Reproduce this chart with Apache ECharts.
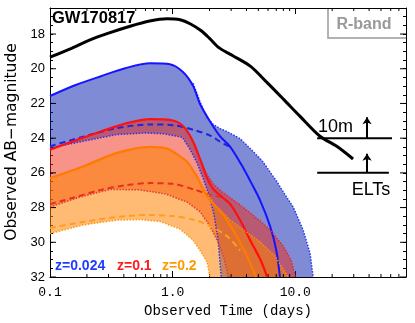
<!DOCTYPE html>
<html>
<head>
<meta charset="utf-8">
<script src="https://cdn.jsdelivr.net/npm/echarts@6/dist/echarts.min.js"></script>
<style>
  html, body { margin: 0; padding: 0; background: #fff; }
  #chart { width: 415px; height: 323px; }
</style>
</head>
<body>
<div id="chart"></div>
<script>
// observed R-band light curve of GW170817, [days, AB mag]
const gw170817 = [[0.1, 19.33], [0.15, 18.82], [0.21, 18.35], [0.3, 17.95], [0.45, 17.55], [0.65, 17.25],
  [0.9, 17.12], [1.15, 17.18], [1.4, 17.42], [1.7, 17.8], [2.0, 18.25], [2.4, 18.8], [3.1, 19.25],
  [4.3, 19.85], [5.9, 20.8], [8.0, 21.75], [10.9, 22.73], [15.9, 23.89], [21.8, 24.47], [29.6, 25.2]];

// z = 0.024
const blueSolid = [[0.1, 21.57], [0.16, 20.95], [0.26, 20.43], [0.41, 19.97], [0.66, 19.68], [0.95, 19.74],
  [1.22, 20.2], [1.47, 21.0], [1.68, 22.06], [2.02, 23.04], [2.44, 23.9], [2.95, 24.5], [3.76, 25.7],
  [4.29, 26.46], [5.18, 27.6], [6.25, 29.1], [7.0, 30.45], [7.5, 32.0]];
const blueDashed = [[0.1, 24.47], [0.19, 23.9], [0.35, 23.42], [0.66, 23.21], [1.05, 23.27], [1.53, 23.55],
  [2.02, 23.85], [2.44, 24.2], [2.9, 24.48]];
const blueOuter = [[1.47, 20.84], [1.68, 21.94], [1.91, 22.81], [2.14, 23.21], [2.44, 23.45], [2.78, 23.62],
  [3.55, 24.03], [4.29, 24.6], [5.37, 25.3], [7.1, 26.52], [8.27, 27.27], [9.62, 27.97], [11.6, 29.3],
  [13.2, 30.63], [14.0, 32.0]];
const blueLower = [[0.1, 24.56], [0.186, 24.18], [0.35, 23.79], [0.6, 23.7], [0.85, 23.75], [1.2, 23.95],
  [1.39, 24.66], [1.58, 25.42], [1.77, 26.29], [1.99, 27.33], [2.18, 28.43], [2.35, 29.88], [2.49, 32.0]];

// z = 0.1
const redSolid = [[0.1, 24.66], [0.16, 24.14], [0.26, 23.62], [0.41, 23.16], [0.66, 22.9], [0.95, 22.95],
  [1.22, 23.31], [1.47, 24.2], [1.68, 25.24], [1.91, 26.3], [2.14, 26.92], [2.53, 27.39], [2.95, 27.8],
  [3.55, 28.72], [4.29, 29.88], [5.18, 30.98], [5.9, 32.0]];
const redDashed = [[0.1, 27.8], [0.16, 27.4], [0.26, 26.98], [0.41, 26.72], [0.66, 26.59], [1.0, 26.63],
  [1.53, 26.98], [2.02, 27.27], [2.53, 27.39]];
const redOuter = [[1.68, 25.24], [1.91, 26.1], [2.14, 26.63], [2.53, 27.1], [2.95, 27.44], [3.55, 27.85],
  [4.29, 28.31], [5.18, 28.78], [6.25, 29.3], [7.98, 30.22], [9.25, 31.04], [10.0, 32.0]];
const redLower = [[0.1, 27.96], [0.176, 27.39], [0.31, 26.95], [0.54, 26.98], [0.87, 27.21], [1.31, 27.68],
  [1.68, 28.25], [2.02, 29.07], [2.35, 30.0], [2.63, 30.92], [2.84, 32.0]];

// z = 0.2
const orangeSolid = [[0.1, 26.3], [0.186, 25.63], [0.352, 24.85], [0.655, 24.5], [0.9, 24.6], [1.15, 25.05],
  [1.31, 25.36], [1.58, 26.23], [1.84, 27.15], [2.1, 27.73], [2.53, 28.31], [3.11, 29.3], [3.76, 30.34],
  [4.29, 31.2], [4.8, 32.0]];
const orangeDashed = [[0.1, 29.18], [0.186, 28.83], [0.352, 28.54], [0.655, 28.43], [1.0, 28.49],
  [1.53, 28.72], [2.02, 29.07], [2.78, 29.65], [3.55, 30.46]];
const orangeOuter = [[1.58, 26.23], [1.84, 26.98], [2.22, 27.85], [2.95, 28.72], [3.9, 29.36], [5.18, 29.99],
  [6.85, 30.8], [8.74, 32.0]];
const orangeLower = [[0.1, 29.5], [0.186, 29.0], [0.352, 28.72], [0.54, 28.69], [0.79, 28.8], [1.15, 29.24],
  [1.47, 29.88], [1.71, 30.57], [1.91, 31.15], [2.02, 32.0]];

// telescope limits
const limit10m = 24;
const limitElt = 26;
const limitDays = [15.1, 61.5];
const arrowDay = 38.5;

const minorDays = [0.2, 0.3, 0.4, 0.5, 0.6, 0.7, 0.8, 0.9, 2, 3, 4, 5, 6, 7, 8, 9, 20, 30, 40, 50, 60, 70];
const majorMags = [18, 20, 22, 24, 26, 28, 30, 32];

const chart = echarts.init(document.getElementById('chart'), null, { renderer: 'canvas' });

function band(solid, outer, lower, color) {
  const upper = solid.filter(p => p[0] < outer[0][0]).concat(outer);
  const poly = upper.concat(lower.slice().reverse());
  return {
    type: 'custom',
    silent: true,
    data: [[1, 20]],
    renderItem: function (params, api) {
      return {
        type: 'polygon',
        shape: { points: poly.map(p => api.coord(p)) },
        style: { fill: color }
      };
    }
  };
}

function curve(data, color, width, type, smooth) {
  return {
    type: 'line',
    data: data,
    symbol: 'none',
    silent: true,
    smooth: smooth ? 0.3 : false,
    lineStyle: { color: color, width: width, type: type || 'solid' }
  };
}

function fmtDay(v) {
  const l = Math.log10(v);
  if (Math.abs(l - Math.round(l)) > 1e-6 || v > 50) return '';
  return v < 1 ? '0.1' : Number(v).toFixed(1);
}

const xBase = {
  type: 'log', logBase: 10, min: 0.1, max: 80,
  axisLine: { show: true, onZero: false, lineStyle: { color: '#000', width: 1 } },
  axisTick: { show: true, inside: true, length: 6, lineStyle: { color: '#000' } },
  splitLine: { show: false }
};
const yBase = {
  type: 'value', inverse: true, min: 16.5, max: 32, interval: 0.5,
  axisLine: { show: true, onZero: false, lineStyle: { color: '#000', width: 1 } },
  axisTick: { show: true, inside: true, length: 3, lineStyle: { color: '#000' } },
  splitLine: { show: false }
};

const option = {
  animation: false,
  backgroundColor: '#fff',
  grid: { left: 50, right: 9, top: 8, bottom: 46 },
  xAxis: [
    Object.assign({}, xBase, {
      position: 'bottom',
      axisLabel: { margin: 9, fontFamily: 'Liberation Mono', fontSize: 13, color: '#000', formatter: fmtDay, showMaxLabel: false }
    }),
    Object.assign({}, xBase, { position: 'top', axisLabel: { show: false } })
  ],
  yAxis: [
    Object.assign({}, yBase, {
      position: 'left',
      axisLabel: {
        margin: 5, fontFamily: 'Liberation Sans', fontSize: 13, color: '#000',
        formatter: v => (v % 2 === 0 && v >= 18 ? String(v) : '')
      }
    }),
    Object.assign({}, yBase, { position: 'right', axisLabel: { show: false } })
  ],
  series: [
    band(blueSolid, blueOuter, blueLower, 'rgba(10,35,175,0.52)'),
    curve(blueDashed, '#2222dd', 2, [6, 4], true),
    curve(blueOuter, '#2233ff', 1.5, 'dotted'),
    curve(blueLower, '#2233ff', 1.5, 'dotted'),
    curve(blueSolid, '#1414ff', 2, 'solid', true),

    band(redSolid, redOuter, redLower, 'rgba(240,40,20,0.5)'),
    curve(redDashed, '#e8301c', 2, [6, 4], true),
    curve(redOuter, '#ee2222', 1.5, 'dotted'),
    curve(redLower, '#e03a3a', 1.5, 'dotted'),
    curve(redSolid, '#ff1010', 2.2, 'solid', true),

    band(orangeSolid, orangeOuter, orangeLower, 'rgba(255,130,0,0.55)'),
    curve(orangeDashed, '#ff9d20', 2, [6, 4], true),
    curve(orangeOuter, '#ff8a10', 1.5, 'dotted'),
    curve(orangeLower, '#ff9a10', 1.5, 'dotted'),
    curve(orangeSolid, '#ff7a00', 2.2, 'solid', true),

    curve(gw170817, '#000', 3, 'solid', true),

    curve([[limitDays[0], limit10m], [limitDays[1], limit10m]], '#000', 2),
    curve([[limitDays[0], limitElt], [limitDays[1] - 3.5, limitElt]], '#000', 2),
    {
      type: 'lines',
      coordinateSystem: 'cartesian2d',
      silent: true,
      symbol: ['none', 'arrow'],
      symbolSize: 7,
      lineStyle: { color: '#000', width: 2, opacity: 1, curveness: 0 },
      data: [
        { coords: [[arrowDay, limit10m], [arrowDay, limit10m - 1.2]] },
        { coords: [[arrowDay, limitElt], [arrowDay, limitElt - 1.1]] }
      ]
    },
    {
      // minor ticks of the log axis, bottom and top
      type: 'custom',
      silent: true,
      data: minorDays.map(d => [d, 32]),
      renderItem: function (params, api) {
        const cs = params.coordSys;
        const x = api.coord([api.value(0), 32])[0];
        const b = cs.y + cs.height;
        return {
          type: 'group',
          children: [
            { type: 'line', shape: { x1: x, y1: b, x2: x, y2: b - 3 }, style: { stroke: '#000', lineWidth: 1 } },
            { type: 'line', shape: { x1: x, y1: cs.y, x2: x, y2: cs.y + 3 }, style: { stroke: '#000', lineWidth: 1 } }
          ]
        };
      }
    },
    {
      // major magnitude ticks, left and right
      type: 'custom',
      silent: true,
      data: majorMags.map(m => [1, m]),
      renderItem: function (params, api) {
        const cs = params.coordSys;
        const y = api.coord([1, api.value(1)])[1];
        const r = cs.x + cs.width;
        return {
          type: 'group',
          children: [
            { type: 'line', shape: { x1: cs.x, y1: y, x2: cs.x + 6, y2: y }, style: { stroke: '#000', lineWidth: 1 } },
            { type: 'line', shape: { x1: r, y1: y, x2: r - 6, y2: y }, style: { stroke: '#000', lineWidth: 1 } }
          ]
        };
      }
    }
  ],
  graphic: [
    { type: 'text', x: 52, y: 18.5, style: { text: 'GW170817', font: 'bold 16.5px "Liberation Sans"', fill: '#000', verticalAlign: 'middle' } },
    { type: 'polyline', shape: { points: [[328, 8], [328, 38], [406, 38]] }, style: { stroke: '#999', lineWidth: 1.5, fill: null } },
    { type: 'text', x: 364, y: 25, style: { text: 'R-band', font: 'bold 16px "Liberation Sans"', fill: '#999', align: 'center', verticalAlign: 'middle' } },
    { type: 'text', x: 55, y: 266, style: { text: 'z=0.024', font: 'bold 14px "Liberation Sans"', fill: '#1e3cff', verticalAlign: 'middle' } },
    { type: 'text', x: 117, y: 266, style: { text: 'z=0.1', font: 'bold 14px "Liberation Sans"', fill: '#ff1a1a', verticalAlign: 'middle' } },
    { type: 'text', x: 162, y: 266, style: { text: 'z=0.2', font: 'bold 14px "Liberation Sans"', fill: '#ff9a00', verticalAlign: 'middle' } },
    { type: 'text', x: 318, y: 127, style: { text: '10m', font: '18px "Liberation Sans"', fill: '#000', verticalAlign: 'middle' } },
    { type: 'text', x: 371, y: 190, style: { text: 'ELTs', font: '18px "Liberation Sans"', fill: '#000', align: 'center', verticalAlign: 'middle' } },
    { type: 'text', x: 228, y: 311, style: { text: 'Observed Time (days)', font: '14px "Liberation Mono"', fill: '#000', align: 'center', verticalAlign: 'middle' } },
    { type: 'text', x: 12, y: 142, rotation: Math.PI / 2, style: { text: 'Observed AB\u2212magnitude', font: '15.5px "DejaVu Sans"', fill: '#000', align: 'center', verticalAlign: 'middle' } }
  ]
};

chart.setOption(option);
</script>
</body>
</html>
